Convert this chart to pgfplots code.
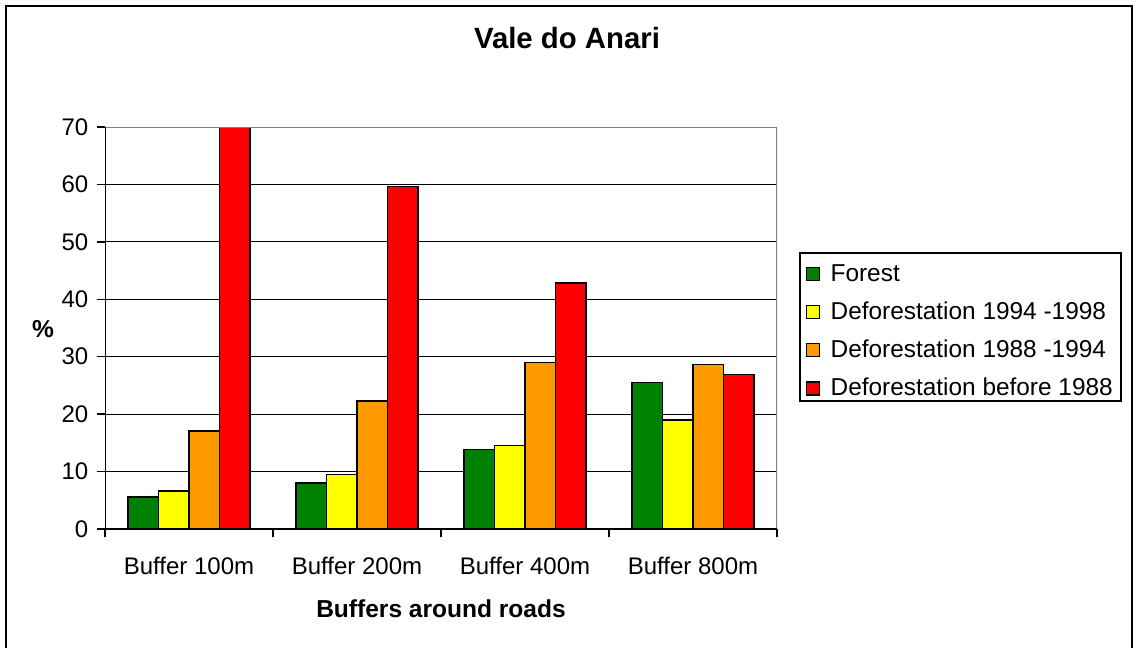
\documentclass[border=0pt]{standalone}
\usepackage{pgfplots}
\pgfplotsset{compat=1.18}
\usepackage{fontspec}
\setmainfont{Liberation Sans}
\definecolor{cForest}{RGB}{0,128,0}
\definecolor{cYellow}{RGB}{255,255,0}
\definecolor{cOrange}{RGB}{255,153,0}
\definecolor{cRed}{RGB}{255,0,0}
\begin{document}
\begin{tikzpicture}[x=0.75pt,y=0.75pt]
\path[use as bounding box] (0,0) rectangle (1135,647);
\fill[white] (0,0) rectangle (1135,647);
\draw[line width=1.5pt] (6,-20) -- (6,641) -- (1131.5,641) -- (1131.5,-20);
\coordinate (A) at (105,118);
\begin{axis}[
  at={(A)}, anchor=south west,
  scale only axis, width=504pt, height=301.5pt,
  xmin=-0.5, xmax=3.5, ymin=0, ymax=70,
  ybar=0pt, bar width=22.9pt,
  xtick={0,1,2,3},
  xticklabels={Buffer 100m,Buffer 200m,Buffer 400m,Buffer 800m},
  minor xtick={-0.5,0.5,1.5,2.5,3.5},
  ytick={0,10,...,70},
  tick align=outside, tick pos=left,
  major tick length=6pt, minor tick length=6pt,
  major x tick style={draw=none},
  minor x tick style={black, line width=1.1pt},
  y tick style={black, line width=1.1pt},
  ymajorgrids, major y grid style={black, line width=0.75pt},
  axis line style={draw=none},
  /pgf/number format/assume math mode=true,
  tick label style={font=\fontsize{18}{21}\selectfont},
  yticklabel style={xshift=-3pt},
  xticklabel style={yshift=-11.5pt},
  title={\textbf{Vale do Anari}},
  title style={font=\fontsize{22}{26}\selectfont, at={(rel axis cs:0.6875,1.2015)}, anchor=center},
  xlabel={\textbf{Buffers around roads}},
  xlabel style={font=\fontsize{18.4}{22}\selectfont, at={(rel axis cs:0.5,-0.199)}, anchor=center},
  ylabel={\textbf{\%}},
  ylabel style={font=\fontsize{18.4}{22}\selectfont, rotate=-90, at={(rel axis cs:-0.0923,0.4975)}, anchor=center},
  legend style={at={(rel axis cs:1.0327,0.689)}, anchor=north west,
    draw=black, line width=1.5pt, font=\fontsize{18.3}{22}\selectfont,
    row sep=7.7pt, inner xsep=4.5pt, inner ysep=2pt,
    nodes={inner sep=2pt, text height=17pt, text depth=0pt}},
  legend cell align=left,
  legend image code/.code={\draw[#1, line width=0.9pt, draw=black] (1.5pt,-7.9pt) rectangle (11.2pt,1.9pt); \path (17pt,0pt);},
]
\addplot[fill=cForest, draw=black, line width=1.1pt] coordinates {(0,5.55) (1,8.05) (2,13.8) (3,25.5)};
\addplot[fill=cYellow, draw=black, line width=1.1pt] coordinates {(0,6.65) (1,9.45) (2,14.5) (3,19.0)};
\addplot[fill=cOrange, draw=black, line width=1.1pt] coordinates {(0,17.1) (1,22.3) (2,29.0) (3,28.6)};
\addplot[fill=cRed, draw=black, line width=1.1pt] coordinates {(0,70.0) (1,59.6) (2,42.8) (3,26.9)};
\legend{Forest,Deforestation 1994 -1998,Deforestation 1988 -1994,Deforestation before 1988}
\draw[gray, line width=1.3pt] (rel axis cs:0,1) -- (rel axis cs:1,1) -- (rel axis cs:1,0);
\draw[black, line width=1.5pt] (rel axis cs:0,1) -- (rel axis cs:0,0) -- (rel axis cs:1,0);
\end{axis}
\end{tikzpicture}
\end{document}
